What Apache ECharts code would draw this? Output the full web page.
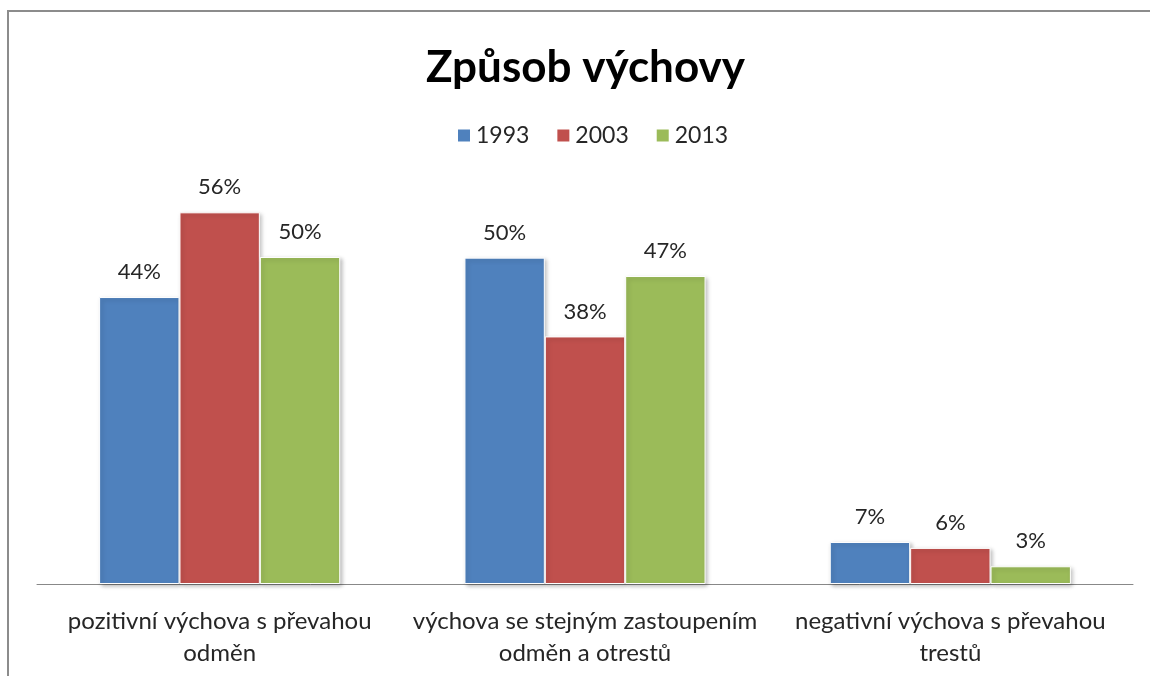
<!DOCTYPE html>
<html>
<head>
<meta charset="utf-8">
<script src="https://cdn.jsdelivr.net/npm/echarts@6/dist/echarts.min.js"></script>
<style>
html,body{margin:0;padding:0;background:#fff;}
#c{width:1150px;height:676px;}
</style>
</head>
<body>
<div id="c"></div>
<script>
const titleText = 'Způsob výchovy';
const categories = ['pozitivní výchova s převahou\nodměn', 'výchova se stejným zastoupením\nodměn a otrestů', 'negativní výchova s převahou\ntrestů'];
const seriesNames = ['1993', '2003', '2013'];
const values1993 = [43.7, 49.7, 6.4];
const values2003 = [56.6, 37.7, 5.5];
const values2013 = [49.8, 46.9, 2.7];
const labels1993 = ['44%', '50%', '7%'];
const labels2003 = ['56%', '38%', '6%'];
const labels2013 = ['50%', '47%', '3%'];
const colors = ['#4F81BD', '#C0504D', '#9BBB59'];

const font = 'Lato, "Open Sans", sans-serif';
const chart = echarts.init(document.getElementById('c'));
function mk(name, vals, labs, color) {
  return {
    name: name,
    type: 'bar',
    data: vals,
    barGap: '0%',
    barCategoryGap: '34%',
    itemStyle: {
      color: color,
      borderColor: '#fff',
      borderWidth: 1,
      shadowBlur: 4,
      shadowOffsetX: 2,
      shadowOffsetY: 2,
      shadowColor: 'rgba(0,0,0,0.25)'
    },
    label: {
      show: true,
      position: 'top',
      distance: 14,
      fontFamily: font,
      fontSize: 22,
      color: '#262626',
      formatter: p => labs[p.dataIndex]
    },
    emphasis: {disabled: true}
  };
}
chart.setOption({
  animation: false,
  color: colors,
  title: {
    text: titleText,
    left: 421,
    top: 41,
    textStyle: {fontFamily: font, fontSize: 44, fontWeight: 'bold', color: '#000'}
  },
  legend: {
    top: 119,
    left: 451,
    itemWidth: 14,
    itemHeight: 14,
    itemGap: 26,
    icon: 'rect',
    textStyle: {fontFamily: font, fontSize: 23, color: '#262626'},
    data: seriesNames
  },
  grid: {left: 37, right: 17, top: 190, bottom: 92, outerBoundsMode: 'none'},
  xAxis: {
    type: 'category',
    data: categories,
    axisLine: {lineStyle: {color: '#888', width: 1}},
    axisTick: {show: false},
    axisLabel: {fontFamily: font, fontSize: 24, color: '#262626', lineHeight: 32, margin: 21, interval: 0}
  },
  yAxis: {
    type: 'value',
    min: 0,
    max: 60,
    show: false,
    splitLine: {show: false}
  },
  graphic: [{
    type: 'rect',
    shape: {x: 8, y: 11, width: 1300, height: 800},
    style: {fill: 'none', stroke: '#8c8c8c', lineWidth: 2},
    silent: true
  }],
  series: [
    mk(seriesNames[0], values1993, labels1993, colors[0]),
    mk(seriesNames[1], values2003, labels2003, colors[1]),
    mk(seriesNames[2], values2013, labels2013, colors[2])
  ]
});
</script>
</body>
</html>
